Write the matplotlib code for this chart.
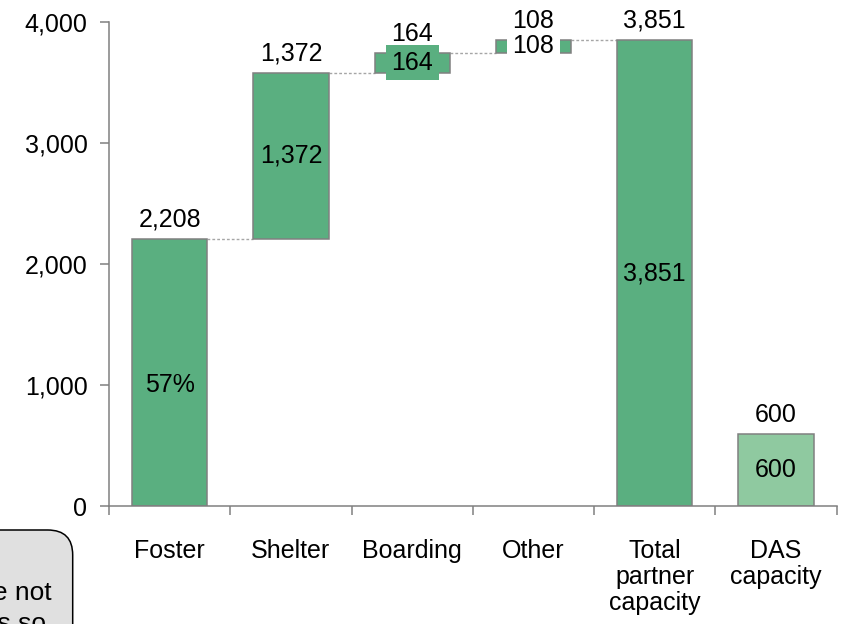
import numpy as np
import matplotlib
matplotlib.use("Agg")
import matplotlib.pyplot as plt
from matplotlib.patches import FancyBboxPatch

# -----------------------------------------------------------------------------
# Data
# -----------------------------------------------------------------------------
categories = ["Foster", "Shelter", "Boarding", "Other",
              "Total\npartner\ncapacity", "DAS\ncapacity"]
values = [2208, 1372, 164, 108, 3851, 600]
is_total = [False, False, False, False, True, True]
inner_labels = ["57%", "1,372", "164", "108", "3,851", "600"]
y_ticks = [0, 1000, 2000, 3000, 4000]

# -----------------------------------------------------------------------------
# Styling
# -----------------------------------------------------------------------------
plt.rcParams["font.family"] = ["Liberation Sans", "DejaVu Sans"]
fs = 18
green = "#5aaf80"
light_green = "#8fc9a0"
grey = "#808080"
bar_colors = [green, green, green, green, green, light_green]
inner_bg = [None, None, green, "white", None, None]
inner_shift = [-9, 0, 0, 0, 0, 0]  # points, vertical nudge of inside labels
width = 0.62

fig = plt.figure(figsize=(8.43, 6.24), dpi=100)
ax = fig.add_axes([0.1293, 0.1886, 0.9925 - 0.1293, 0.9652 - 0.1886])

# Compute bottoms for the waterfall.
bottoms = []
running = 0
for v, t in zip(values, is_total):
    if t:
        bottoms.append(0)
    else:
        bottoms.append(running)
        running += v

x = np.arange(len(categories))
ax.bar(x, values, width=width, bottom=bottoms, color=bar_colors,
       edgecolor=grey, linewidth=1.1, zorder=2)

# Connector lines between the step bars.
for i in range(4):
    level = bottoms[i] + values[i]
    ax.plot([x[i] + width / 2, x[i + 1] - width / 2], [level, level],
            color="#a6a6a6", linestyle=(0, (2, 1.5)), linewidth=1, zorder=1)

# Value labels above and inside each bar.
for i, (v, b) in enumerate(zip(values, bottoms)):
    ax.annotate("{:,}".format(v), (x[i], b + v), xytext=(0, 5),
                textcoords="offset points", ha="center", va="bottom",
                fontsize=fs, color="black")
    kw = {}
    if inner_bg[i] is not None:
        kw["bbox"] = dict(boxstyle="square,pad=0.22", facecolor=inner_bg[i],
                          edgecolor="none")
    ax.annotate(inner_labels[i], (x[i], b + v / 2), xytext=(0, inner_shift[i]),
                textcoords="offset points", ha="center", va="center",
                fontsize=fs, color="black", zorder=4, **kw)

# Axes.
ax.set_xlim(-0.5, len(categories) - 0.5)
ax.set_ylim(0, 4000)
ax.set_yticks(y_ticks)
ax.set_yticklabels(["{:,}".format(t) for t in y_ticks], fontsize=fs)
ax.set_xticks(np.arange(len(categories) + 1) - 0.5)
ax.set_xticklabels([])
ax.set_xticks(x, minor=True)
ax.set_xticklabels(categories, minor=True, fontsize=fs, linespacing=1.1)
ax.tick_params(axis="x", which="minor", length=0, pad=23.5)
ax.tick_params(axis="x", which="major", length=6.5, width=1.1, color=grey)
ax.tick_params(axis="y", length=6.5, width=1.1, color=grey, pad=9)

for side in ["top", "right"]:
    ax.spines[side].set_visible(False)
for side in ["left", "bottom"]:
    ax.spines[side].set_color(grey)
    ax.spines[side].set_linewidth(1.1)

# Note box, partly off the figure at bottom left.
note = FancyBboxPatch((-1.0, -1.0), 1.727, 1.94,
                      boxstyle="round,pad=0,rounding_size=0.25",
                      transform=fig.dpi_scale_trans, facecolor="#e0e0e0",
                      edgecolor="black", linewidth=1.1)
fig.patches.append(note)
fig.text(0.52, 0.24, "Numbers are not", transform=fig.dpi_scale_trans,
         ha="right", va="baseline", fontsize=19)
fig.text(0.465, -0.06, "rounded, totals so", transform=fig.dpi_scale_trans,
         ha="right", va="baseline", fontsize=19)

fig.savefig("out.png", dpi=100)
